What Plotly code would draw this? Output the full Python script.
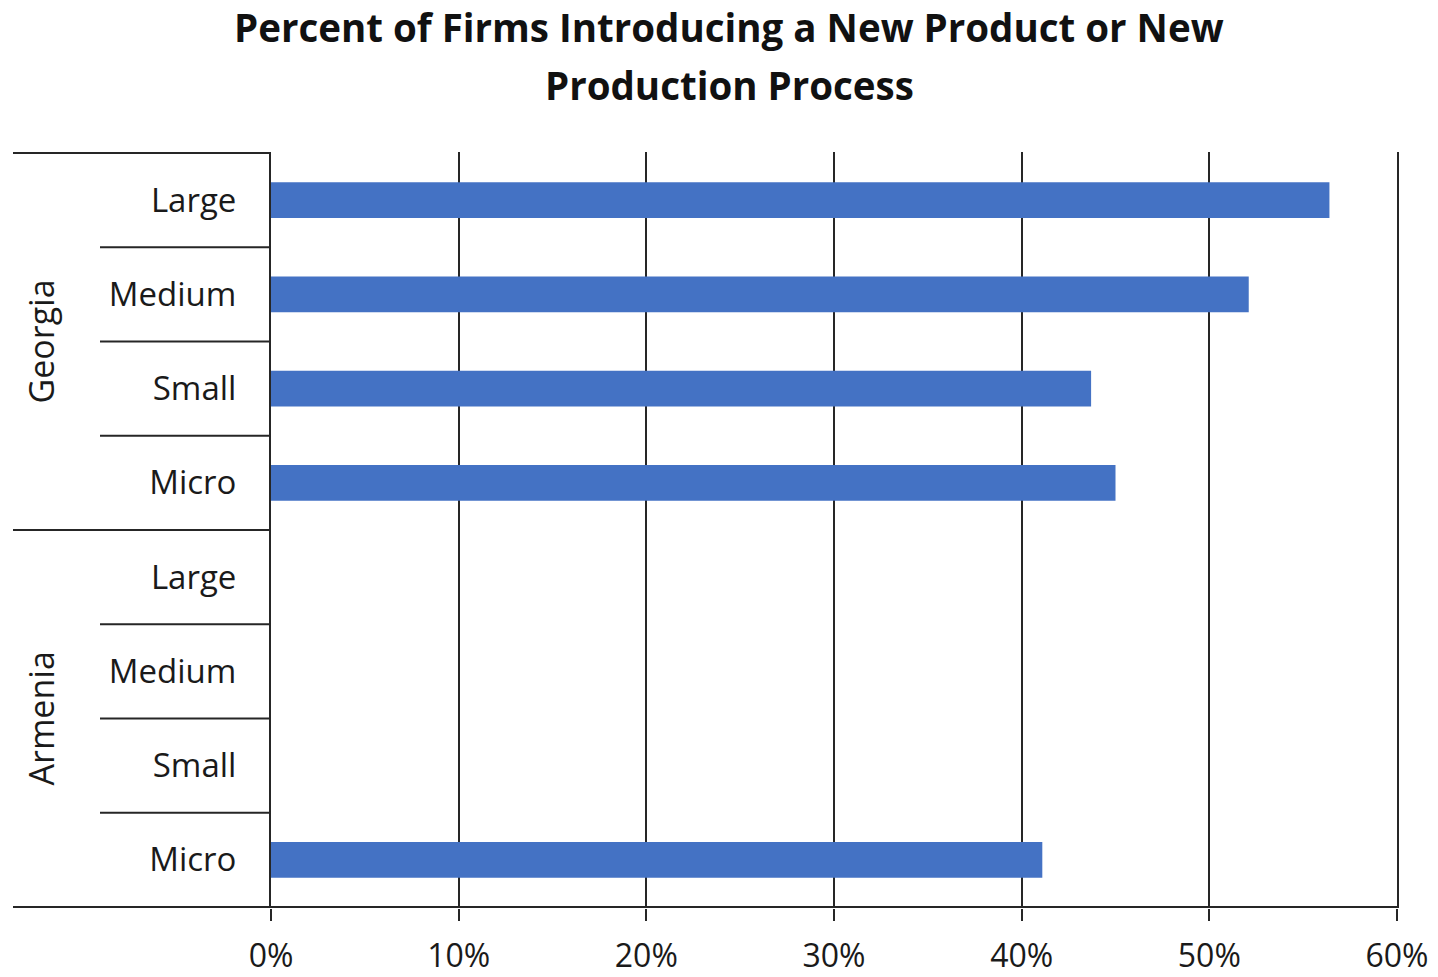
import plotly.graph_objects as go

# Survey results: share of firms introducing a new product or production process
countries = ["Georgia", "Georgia", "Georgia", "Georgia",
             "Armenia", "Armenia", "Armenia", "Armenia"]
sizes = ["Large", "Medium", "Small", "Micro",
         "Large", "Medium", "Small", "Micro"]
percent = [56.4, 52.1, 43.7, 45.0, None, None, None, 41.1]
x_ticks = [0, 10, 20, 30, 40, 50, 60]
x_tick_labels = ["0%", "10%", "20%", "30%", "40%", "50%", "60%"]
groups = ["Georgia", "Armenia"]

W, H = 1438, 977
ML, MR, MT, MB = 271, 41, 152, 69
plot_w = W - ML - MR
plot_h = H - MT - MB

FONT = "Open Sans"
TXT = "#1a1a1a"
LINE = "#262626"
BAR = "#4472C4"

ids = [f"{c}|{s}" for c, s in zip(countries, sizes)]

fig = go.Figure()
fig.add_trace(go.Bar(
    x=percent, y=ids, orientation="h",
    marker=dict(color=BAR, line=dict(width=0)),
    width=0.38, showlegend=False, hoverinfo="x+y",
))


def px_x(px):
    return (px - ML) / plot_w


# category separators on the left, in axis units (rows at 0..7)
n = len(ids)
shapes = []
# outer lines: top edge and between groups (extended left)
for yb in [-0.5, 3.5]:
    shapes.append(dict(type="line", xref="paper", yref="y",
                       x0=px_x(13), x1=0, y0=yb, y1=yb,
                       line=dict(color=LINE, width=2)))
# inner lines between sizes within a group
for yb in [0.5, 1.5, 2.5, 4.5, 5.5, 6.5]:
    shapes.append(dict(type="line", xref="paper", yref="y",
                       x0=px_x(100), x1=0, y0=yb, y1=yb,
                       line=dict(color=LINE, width=2)))
# bottom axis line reaching under the category labels
shapes.append(dict(type="line", xref="paper", yref="y",
                   x0=px_x(13), x1=1, y0=7.5, y1=7.5,
                   line=dict(color=LINE, width=2)))

annotations = []
for gi, g in enumerate(groups):
    annotations.append(dict(
        text=g, xref="paper", yref="y", x=px_x(40), y=gi * 4 + 1.5,
        textangle=-90, showarrow=False, xanchor="center", yanchor="middle",
        font=dict(family=FONT, size=34, color=TXT),
    ))

# two-line title
TITLE_SIZE = 38.5
annotations.append(dict(
    text="<b>Percent of Firms Introducing a New Product or New</b>",
    xref="paper", yref="paper", x=px_x(729), y=(H - MB - 27) / plot_h,
    showarrow=False, xanchor="center", yanchor="middle",
    font=dict(family=FONT, size=TITLE_SIZE, color="#111"),
))
annotations.append(dict(
    text="<b>Production Process</b>",
    xref="paper", yref="paper", x=px_x(729), y=(H - MB - 85) / plot_h,
    showarrow=False, xanchor="center", yanchor="middle",
    font=dict(family=FONT, size=TITLE_SIZE, color="#111"),
))

fig.update_layout(
    width=W, height=H,
    margin=dict(l=ML, r=MR, t=MT, b=MB, autoexpand=False),
    paper_bgcolor="white", plot_bgcolor="white",
    font=dict(family=FONT, size=33, color=TXT),
    shapes=shapes, annotations=annotations,
    bargap=0.62,
)
fig.update_xaxes(
    range=[0, 60], tickvals=x_ticks, ticktext=x_tick_labels,
    showgrid=True, gridcolor=LINE, gridwidth=2,
    zeroline=False, showline=False,
    ticks="outside", ticklen=12, tickwidth=2, tickcolor=LINE,
    ticklabelstandoff=8,
    tickfont=dict(family=FONT, size=32, color=TXT),
    fixedrange=True,
)
fig.update_yaxes(
    type="category", categoryorder="array", categoryarray=ids,
    autorange="reversed", range=[n - 0.5, -0.5],
    tickvals=ids, ticktext=sizes,
    showgrid=False, zeroline=False,
    showline=True, mirror=True, linecolor=LINE, linewidth=2,
    ticks="", ticklabelstandoff=26,
    tickfont=dict(family=FONT, size=33, color=TXT),
    fixedrange=True,
)

fig.write_html("out.html")
